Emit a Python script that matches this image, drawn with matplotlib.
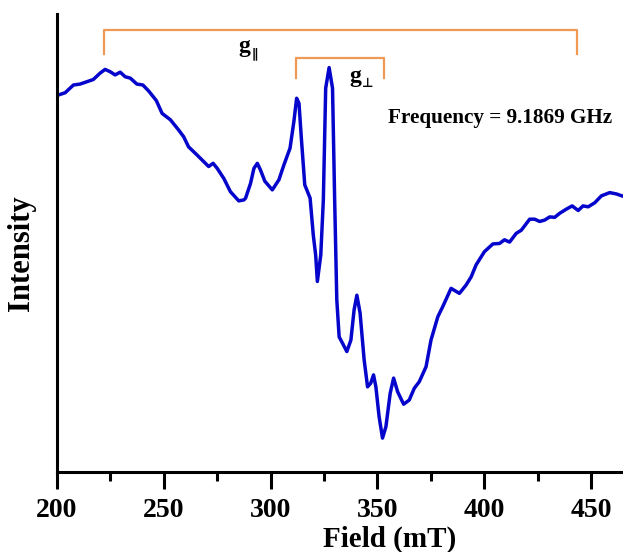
import matplotlib
matplotlib.use("Agg")
import matplotlib.pyplot as plt

# EPR spectrum (field in mT, intensity in arbitrary units)
field = [200.5, 203.8, 207.7, 210.8, 213.9, 217.0, 220.2, 222.5, 224.9, 227.2,
         229.6, 231.9, 234.3, 237.4, 240.2, 242.9, 246.5, 249.2, 253.1, 256.9,
         259.3, 261.6, 265.6, 271.0, 273.1, 275.0, 278.1, 281.2, 285.1, 287.5,
         288.3, 290.6, 292.2, 293.8, 295.3, 297.3, 300.8, 303.9, 306.2, 309.1,
         310.9, 312.2, 313.3, 314.4, 316.0, 318.5, 320.0, 321.1, 321.9, 323.5,
         324.7, 325.8, 327.4, 329.0, 330.0, 331.0, 332.1, 333.7, 335.7, 337.6,
         339.1, 340.4, 341.9, 343.8, 345.4, 346.9, 348.2, 349.3, 350.8, 352.4,
         354.0, 356.0, 357.6, 359.5, 362.3, 364.9, 367.3, 369.6, 372.8, 375.1,
         378.3, 380.6, 384.5, 388.4, 391.5, 393.9, 396.2, 400.1, 404.1, 407.2,
         409.5, 411.9, 415.0, 417.4, 421.3, 423.6, 426.0, 428.3, 430.7, 433.0,
         435.4, 438.5, 441.2, 444.0, 446.3, 448.7, 451.8, 454.9, 458.8, 462.0,
         465.7]
intensity = [82.3, 82.8, 84.5, 84.7, 85.2, 85.7, 87.1, 87.9, 87.4, 86.7,
             87.3, 86.3, 86.0, 84.7, 84.5, 83.2, 81.1, 78.3, 76.9, 74.7,
             73.2, 71.0, 69.2, 66.7, 67.4, 66.3, 64.1, 61.2, 59.2, 59.4,
             59.8, 63.0, 66.3, 67.4, 65.9, 63.5, 61.6, 63.8, 67.0, 70.7,
             76.5, 81.6, 80.5, 72.9, 62.7, 59.8, 51.7, 47.4, 41.6, 47.4,
             59.4, 83.8, 88.3, 83.8, 59.4, 37.6, 29.5, 28.1, 26.3, 28.8,
             35.4, 38.6, 34.7, 24.5, 18.6, 19.4, 21.2, 18.6, 12.1, 7.4,
             9.9, 17.2, 20.5, 17.5, 14.8, 15.7, 18.3, 19.7, 23.0, 28.8,
             33.9, 36.1, 40.1, 39.0, 40.8, 42.6, 45.2, 48.1, 49.8, 49.9,
             50.7, 50.2, 52.1, 52.8, 55.2, 55.2, 54.7, 55.0, 55.7, 55.6,
             56.5, 57.4, 58.1, 57.1, 58.1, 57.9, 58.8, 60.3, 61.0, 60.7,
             60.1]

# g-value bracket positions (mT)
g_par_field = [222.0, 443.4]
g_perp_field = [311.9, 352.9]
xticks = [200, 250, 300, 350, 400, 450]

serif = ["Liberation Serif", "DejaVu Serif"]
plt.rcParams["font.family"] = serif
plt.rcParams["font.weight"] = "bold"

fig = plt.figure(figsize=(6.23, 5.52), dpi=100)
ax = fig.add_axes([57 / 623, 1 - 472 / 552, 566 / 623, 458 / 552])

ax.plot(field, intensity, color="#0505cc", lw=2.5, solid_joinstyle="round",
        solid_capstyle="round")

orange = "#EE9A55"
ax.plot([g_par_field[0], g_par_field[0], g_par_field[1], g_par_field[1]],
        [91.3, 96.4, 96.4, 91.3], color=orange, lw=1.6)
ax.plot([g_perp_field[0], g_perp_field[0], g_perp_field[1], g_perp_field[1]],
        [86.1, 90.5, 90.5, 86.1], color=orange, lw=1.6)

# g labels: bold serif "g" with a small sans subscript symbol
ax.text(287.5, 93.0, "g", fontsize=17, fontweight="bold", ha="center", va="center")
ax.text(292.6, 91.4, "\u2225", fontsize=9, family=["DejaVu Sans"],
        ha="center", va="center")
ax.text(339.7, 86.4, "g", fontsize=17, fontweight="bold", ha="center", va="center")
ax.text(345.6, 84.9, "\u22a5", fontsize=9, family=["DejaVu Sans"],
        ha="center", va="center")

ax.text(407.4, 77.3, "Frequency = 9.1869 GHz", fontsize=15.2, fontweight="bold",
        ha="center", va="center")

ax.set_xlim(200, 465.0)
ax.set_ylim(0, 100)
ax.set_xticks(xticks)
ax.set_xticks([225, 275, 325, 375, 425], minor=True)
ax.set_yticks([])
for s in ["top", "right"]:
    ax.spines[s].set_visible(False)
for s in ["left", "bottom"]:
    ax.spines[s].set_linewidth(2.2)
ax.tick_params(axis="x", which="major", direction="out", length=12, width=2.2,
               labelsize=20, pad=7)
ax.tick_params(axis="x", which="minor", direction="out", length=6.5, width=2.2)
for lab in ax.get_xticklabels():
    lab.set_fontweight("bold")

ax.text(0.588, -0.146, "Field (mT)", transform=ax.transAxes, fontsize=21,
        fontweight="bold", ha="center", va="center")
ax.text(-0.0636, 0.478, "Intensity", transform=ax.transAxes, fontsize=22,
        fontweight="bold", ha="center", va="center", rotation=90)

fig.savefig("out.png", dpi=100)
